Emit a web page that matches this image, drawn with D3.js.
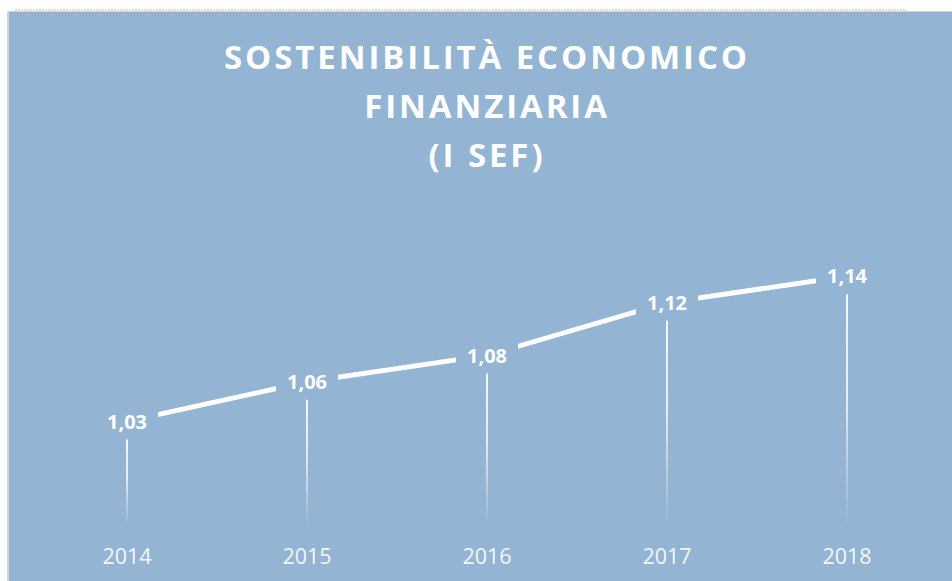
<!DOCTYPE html>
<html>
<head>
<meta charset="utf-8">
<script src="https://cdn.jsdelivr.net/npm/d3@7"></script>
<style>
  body { margin: 0; background: #fff; }
  svg { display: block; }
</style>
</head>
<body>
<div id="container"></div>
<script>
// data
var years = ["2014", "2015", "2016", "2017", "2018"];
var values = [1.03, 1.06, 1.08, 1.12, 1.14];
var titleLines = ["SOSTENIBILITÀ ECONOMICO", "FINANZIARIA", "(I SEF)"];

var width = 952, height = 581;
var bg = "#94b4d3";

var svg = d3.select("#container").append("svg")
  .attr("width", width)
  .attr("height", height);

// page decoration: dotted orange line and panel
svg.append("line")
  .attr("x1", 15).attr("x2", 907)
  .attr("y1", 10).attr("y2", 10)
  .attr("stroke", "#f2b48c")
  .attr("stroke-width", 1)
  .attr("stroke-dasharray", "2,1");

svg.append("rect")
  .attr("x", 7).attr("y", 11)
  .attr("width", width - 7).attr("height", height - 11)
  .attr("fill", "#d4d4d8");
svg.append("rect")
  .attr("x", 9).attr("y", 12)
  .attr("width", width - 9).attr("height", height - 12)
  .attr("fill", bg);

// title
svg.append("text")
  .attr("text-anchor", "middle")
  .attr("font-family", "'Open Sans', sans-serif")
  .attr("font-weight", "bold")
  .attr("font-size", "33px")
  .attr("letter-spacing", "2.9px")
  .attr("fill", "#fff")
  .selectAll("tspan")
  .data(titleLines)
  .enter().append("tspan")
  .attr("x", 487)
  .attr("y", function(d, i) { return 69 + i * 49; })
  .text(function(d) { return d; });

// scales
var x = d3.scalePoint().domain(years).range([127, 847]);
var y = d3.scaleLinear().domain([1.0, 1.2]).range([461, 197]);

var data = years.map(function(d, i) { return {year: d, value: values[i]}; });

// gradient for drop lines
var grad = svg.append("defs").append("linearGradient")
  .attr("id", "dropGrad")
  .attr("x1", 0).attr("x2", 0).attr("y1", 0).attr("y2", 1);
grad.append("stop").attr("offset", "0%").attr("stop-color", "#fff").attr("stop-opacity", 0.9);
grad.append("stop").attr("offset", "45%").attr("stop-color", "#fff").attr("stop-opacity", 0.75);
grad.append("stop").attr("offset", "100%").attr("stop-color", "#fff").attr("stop-opacity", 0);

var dropBottom = 525;
svg.append("g").selectAll("rect")
  .data(data)
  .enter().append("rect")
  .attr("x", function(d) { return x(d.year) - 1; })
  .attr("y", function(d) { return y(d.value) + 18; })
  .attr("width", 2)
  .attr("height", function(d) { return dropBottom - y(d.value) - 18; })
  .attr("fill", "url(#dropGrad)");

// line
var line = d3.line()
  .x(function(d) { return x(d.year); })
  .y(function(d) { return y(d.value); });

svg.append("path")
  .datum(data)
  .attr("d", line)
  .attr("fill", "none")
  .attr("stroke", "#fff")
  .attr("stroke-width", 5);

// data labels with background knockout
var fmt = function(v) { return d3.format(".2f")(v).replace(".", ","); };
var labels = svg.append("g").selectAll("g")
  .data(data)
  .enter().append("g")
  .attr("transform", function(d) { return "translate(" + x(d.year) + "," + y(d.value) + ")"; });

labels.append("rect")
  .attr("x", -31).attr("y", -15)
  .attr("width", 62).attr("height", 30)
  .attr("fill", bg);

labels.append("text")
  .attr("text-anchor", "middle")
  .attr("dy", "0.36em")
  .attr("font-family", "'Open Sans', sans-serif")
  .attr("font-weight", "bold")
  .attr("font-size", "20px")
  .attr("fill", "#fff")
  .text(function(d) { return fmt(d.value); });

// category axis labels
svg.append("g").selectAll("text")
  .data(years)
  .enter().append("text")
  .attr("x", function(d) { return x(d); })
  .attr("y", 564)
  .attr("text-anchor", "middle")
  .attr("font-family", "'Open Sans', sans-serif")
  .attr("font-size", "21.5px")
  .attr("fill", "#f4f7fb")
  .text(function(d) { return d; });
</script>
</body>
</html>
